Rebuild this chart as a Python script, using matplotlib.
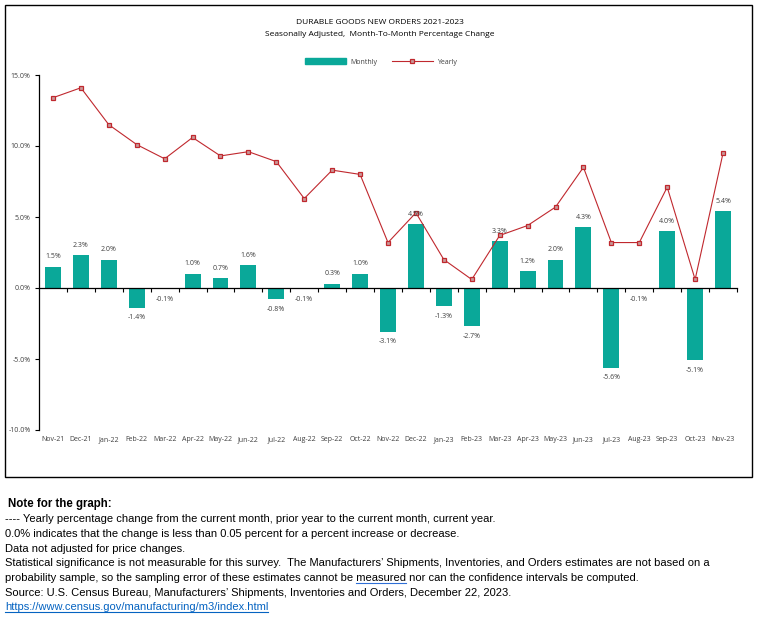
import matplotlib
matplotlib.use("Agg")
import matplotlib.pyplot as plt
from matplotlib.patches import Rectangle
from matplotlib.lines import Line2D
from matplotlib.ticker import FuncFormatter
import matplotlib.transforms as mtransforms

months = ["Nov-21", "Dec-21", "Jan-22", "Feb-22", "Mar-22", "Apr-22", "May-22",
          "Jun-22", "Jul-22", "Aug-22", "Sep-22", "Oct-22", "Nov-22", "Dec-22",
          "Jan-23", "Feb-23", "Mar-23", "Apr-23", "May-23", "Jun-23", "Jul-23",
          "Aug-23", "Sep-23", "Oct-23", "Nov-23"]
monthly = [1.5, 2.3, 2.0, -1.4, -0.1, 1.0, 0.7, 1.6, -0.8, -0.1, 0.3, 1.0, -3.1,
           4.5, -1.3, -2.7, 3.3, 1.2, 2.0, 4.3, -5.6, -0.1, 4.0, -5.1, 5.4]
yearly = [13.4, 14.1, 11.5, 10.1, 9.1, 10.6, 9.3, 9.6, 8.9, 6.3, 8.3, 8.0, 3.2,
          5.3, 2.0, 0.6, 3.7, 4.4, 5.7, 8.5, 3.2, 3.2, 7.1, 0.6, 9.5]

notes = [
    "---- Yearly percentage change from the current month, prior year to the current month, current year.",
    "0.0% indicates that the change is less than 0.05 percent for a percent increase or decrease.",
    "Data not adjusted for price changes.",
    "Statistical significance is not measurable for this survey.  The Manufacturers\u2019 Shipments, Inventories, and Orders estimates are not based on a",
    "probability sample, so the sampling error of these estimates cannot be measured nor can the confidence intervals be computed.",
    "Source: U.S. Census Bureau, Manufacturers\u2019 Shipments, Inventories and Orders, December 22, 2023.",
]
link = "https://www.census.gov/manufacturing/m3/index.html"

TEAL = "#0aa899"
RED = "#c0282e"
MFACE = "#c99a9a"
chart_font = ["Open Sans", "DejaVu Sans"]
note_font = ["Liberation Sans", "DejaVu Sans"]

fig = plt.figure(figsize=(7.58, 6.18), dpi=100)

# chart frame
fig.patches.append(Rectangle((5 / 758, 1 - 477 / 618), 747 / 758, 472 / 618,
                             transform=fig.transFigure, fill=False,
                             edgecolor="black", linewidth=1.0))

ax = fig.add_axes([39 / 758, 1 - 430 / 618, 698 / 758, 355 / 618])
x = list(range(len(months)))
ax.bar(x, monthly, width=0.57, color=TEAL, zorder=2)
ax.plot(x, yearly, color=RED, linewidth=0.8, marker="s", markersize=3.4,
        markerfacecolor=MFACE, markeredgecolor=RED, markeredgewidth=0.9,
        zorder=3)

for xi, v in zip(x, monthly):
    if v >= 0:
        ax.text(xi, v + 0.45, f"{v:.1f}%", ha="center", va="bottom",
                fontsize=5, color="#404040", family=chart_font)
    else:
        ax.text(xi, v - 0.45, f"{v:.1f}%", ha="center", va="top",
                fontsize=5, color="#404040", family=chart_font)

ax.set_xlim(-0.5, len(months) - 0.5)
ax.set_ylim(-10, 15)
ax.set_yticks([-10, -5, 0, 5, 10, 15])
ax.yaxis.set_major_formatter(FuncFormatter(lambda v, p: f"{v:.1f}%"))
ax.tick_params(axis="y", labelsize=5, length=3, width=0.8, pad=3,
               labelcolor="#404040")
for lab in ax.get_yticklabels():
    lab.set_family(chart_font)

for s in ["top", "right"]:
    ax.spines[s].set_visible(False)
ax.spines["left"].set_linewidth(0.9)
ax.spines["bottom"].set_position(("data", 0))
ax.spines["bottom"].set_linewidth(0.9)
ax.set_xticks([i + 0.5 for i in x])
ax.set_xticklabels([])
ax.tick_params(axis="x", length=3, width=0.8, direction="out")

trans = mtransforms.blended_transform_factory(ax.transData, ax.transAxes)
for xi, m in zip(x, months):
    ax.text(xi, -0.018, m, transform=trans, ha="center", va="top",
            fontsize=5, color="#404040", family=chart_font)

fig.text(380 / 758, 1 - 22 / 618, "DURABLE GOODS NEW ORDERS 2021-2023",
         ha="center", va="center", fontsize=6, family=chart_font)
fig.text(380 / 758, 1 - 35 / 618,
         "Seasonally Adjusted,  Month-To-Month Percentage Change",
         ha="center", va="center", fontsize=6, family=chart_font)

handles = [Rectangle((0, 0), 1, 1, color=TEAL),
           Line2D([], [], color=RED, linewidth=0.8, marker="s", markersize=3.4,
                  markerfacecolor=MFACE, markeredgecolor=RED,
                  markeredgewidth=0.9)]
leg = fig.legend(handles, ["Monthly", "Yearly"], loc="center",
                 bbox_to_anchor=(381 / 758, 1 - 62 / 618), ncol=2,
                 frameon=False, prop={"family": chart_font, "size": 5},
                 handlelength=6, handleheight=0.9, columnspacing=2.0,
                 handletextpad=0.6)
for t in leg.get_texts():
    t.set_color("#404040")

fs = 8.0
fig.text(8 / 758, 1 - 507 / 618, "Note for the graph:", ha="left",
         va="baseline", fontsize=8.3, fontweight="bold", family=note_font)
for i, line in enumerate(notes):
    fig.text(5 / 758, 1 - (522.5 + i * 14.6) / 618, line, ha="left",
             va="baseline", fontsize=fs, family=note_font)
link_t = fig.text(5 / 758, 1 - (522.5 + 6 * 14.6) / 618, link, ha="left",
                  va="baseline", fontsize=fs, family=note_font,
                  color="#0563c1")

# underline the link and the spell-check mark under "measured"
fig.canvas.draw()
r = fig.canvas.get_renderer()
bb = link_t.get_window_extent(r)
yb = (1 - (522.5 + 6 * 14.6 + 2) / 618)
fig.add_artist(Line2D([bb.x0 / 758, bb.x1 / 758], [yb, yb],
                      transform=fig.transFigure, color="#0563c1",
                      linewidth=0.8))
line5 = notes[4]
pre = line5[:line5.index("measured")]
tmp = fig.text(5 / 758, 0.5, pre, fontsize=fs, family=note_font)
x0 = tmp.get_window_extent(r).x1
tmp.set_text(pre + "measured")
x1 = tmp.get_window_extent(r).x1
tmp.remove()
yb5 = (1 - (522.5 + 4 * 14.6 + 2) / 618)
fig.add_artist(Line2D([x0 / 758, x1 / 758], [yb5, yb5],
                      transform=fig.transFigure, color="#2f6fd6",
                      linewidth=0.8))

fig.savefig("out.png", dpi=100)
